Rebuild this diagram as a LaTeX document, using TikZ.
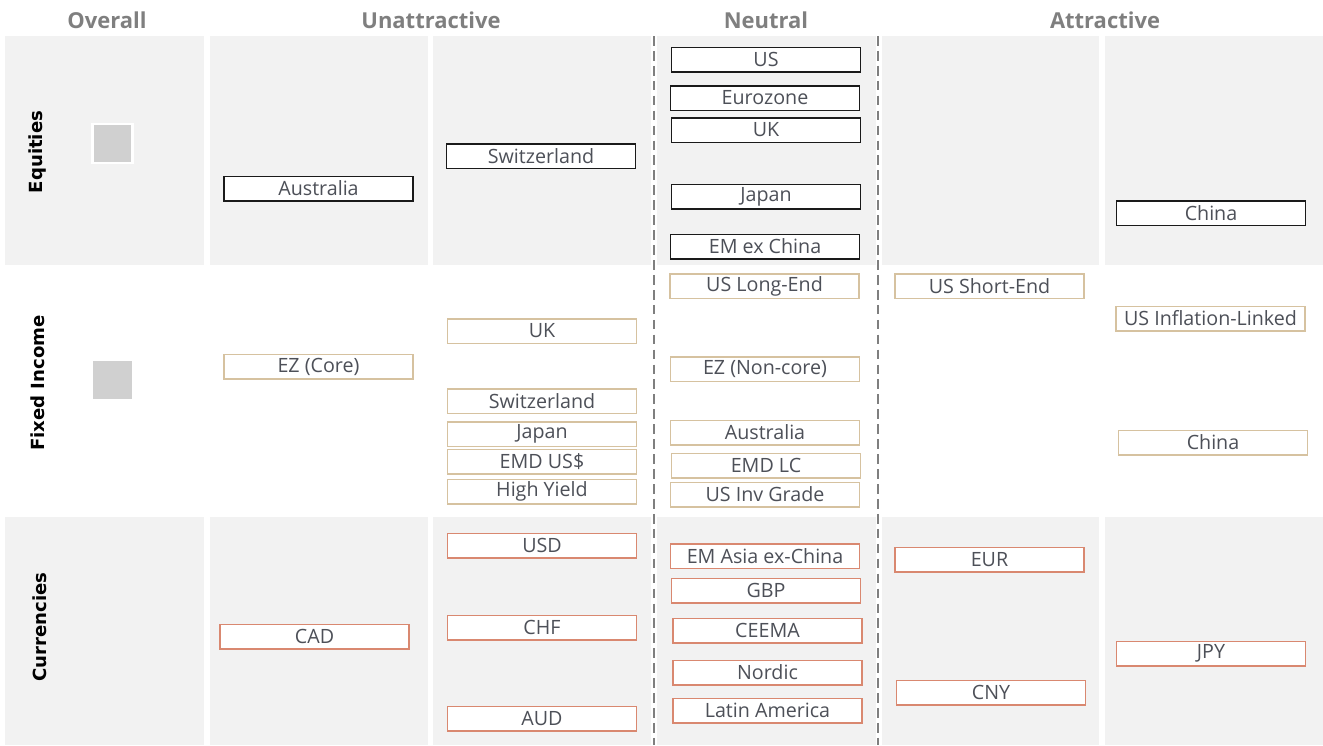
\documentclass[tikz,border=0pt]{standalone}
\usepackage{fontspec}
\setmainfont{Open Sans}
\newfontfamily\labelfont{DejaVu Sans}
\usepackage{tikz}
\definecolor{cellgray}{HTML}{F2F2F2}
\definecolor{headgray}{HTML}{7F7F7F}
\definecolor{markgray}{HTML}{D0D0D0}
\definecolor{textgray}{HTML}{4D5058}
\definecolor{eqline}{HTML}{1A1A1A}
\definecolor{filine}{HTML}{D6C2A0}
\definecolor{fxline}{HTML}{D98870}

\begin{document}
\begin{tikzpicture}[x=0.02cm, y=-0.02cm,
    viewbox/.style={draw, fill=white, line width=0.85pt, minimum width=3.78cm, minimum height=0.49cm,
        inner sep=0pt, text=textgray, font=\fontsize{11.2}{12}\selectfont},
    eqbox/.style={viewbox, draw=eqline},
    fibox/.style={viewbox, draw=filine},
    fxbox/.style={viewbox, draw=fxline},
    colhead/.style={text=headgray, font=\bfseries\fontsize{12.5}{14}\selectfont},
    rowhead/.style={rotate=90, font=\labelfont\bfseries\fontsize{10.3}{12}\selectfont}]
    \useasboundingbox (0,0) rectangle (1323,745);

    % Grey cells for the equities and currencies rows
    \foreach \ya/\yb in {36/265, 517/745}{
        \foreach \xa/\xb in {5/204, 210/428, 433/651, 657/876, 882/1099, 1105/1323}
            \fill[cellgray] (\xa,\ya) rectangle (\xb,\yb);
    }

    % Neutral band separators
    \draw[headgray, line width=1.4pt, dash pattern=on 5.5pt off 3pt] (654,36) -- (654,745);
    \draw[headgray, line width=1.4pt, dash pattern=on 5.5pt off 3pt] (878,36) -- (878,745);

    % Column headers
    \node[colhead] (hOverall) at (107,20) {Overall};
    \node[colhead] (hUnattr) at (431,20) {Unattractive};
    \node[colhead] (hNeutral) at (766,20) {Neutral};
    \node[colhead] (hAttr) at (1105,20) {Attractive};

    % Row headers
    \node[rowhead] (rEq) at (38,152) {Equities};
    \node[rowhead] (rFi) at (38,383) {Fixed Income};
    \node[rowhead] (rFx) at (40,627) {Currencies};

    % Overall markers
    \node[fill=markgray, draw=white, line width=1.2pt, minimum width=0.8cm, minimum height=0.78cm, inner sep=0pt] (mEq) at (112.5,143.5) {};
    \node[fill=markgray, minimum width=0.78cm, minimum height=0.76cm, inner sep=0pt] (mFi) at (112.5,380) {};

    % Equities
    \foreach \name/\x/\y/\txt in {eqAus/318.5/188.5/Australia, eqSwi/541/156/Switzerland,
        eqUS/766/59.5/US, eqEZ/765/98/Eurozone, eqUK/766/130/UK, eqJap/766/196.5/Japan,
        eqEM/765/246.5/EM ex China, eqChi/1211/213/China}
        \node[eqbox] (\name) at (\x,\y) {\txt};

    % Fixed income
    \foreach \name/\x/\y/\txt in {fiLong/764.5/286/US Long-End, fiShort/989.5/286/US Short-End,
        fiLinked/1210.5/318.5/US Inflation-Linked, fiUK/542/331/UK, fiCore/318.5/366.5/EZ (Core),
        fiNonCore/765/369/EZ (Non-core), fiSwi/542/401/Switzerland, fiJap/542/434/Japan,
        fiEMD/542/461.5/EMD US\$, fiHY/542/491.5/High Yield, fiAus/765/432.5/Australia,
        fiLC/766/465.5/EMD LC, fiIG/765/494.5/US Inv Grade, fiChi/1213/442.5/China}
        \node[fibox] (\name) at (\x,\y) {\txt};

    % Currencies
    \foreach \name/\x/\y/\txt in {fxUSD/542/545.5/USD, fxCHF/542/627.5/CHF, fxAUD/542/718.5/AUD,
        fxCAD/314.5/636.5/CAD, fxAsia/765/556/EM Asia ex-China, fxGBP/766/590.5/GBP,
        fxCEEMA/767.5/630.5/CEEMA, fxNordic/767.5/672.5/Nordic, fxLatAm/767.5/710.5/Latin America,
        fxEUR/989.5/559.5/EUR, fxCNY/991/692.5/CNY, fxJPY/1211/653.5/JPY}
        \node[fxbox] (\name) at (\x,\y) {\txt};
\end{tikzpicture}
\end{document}
